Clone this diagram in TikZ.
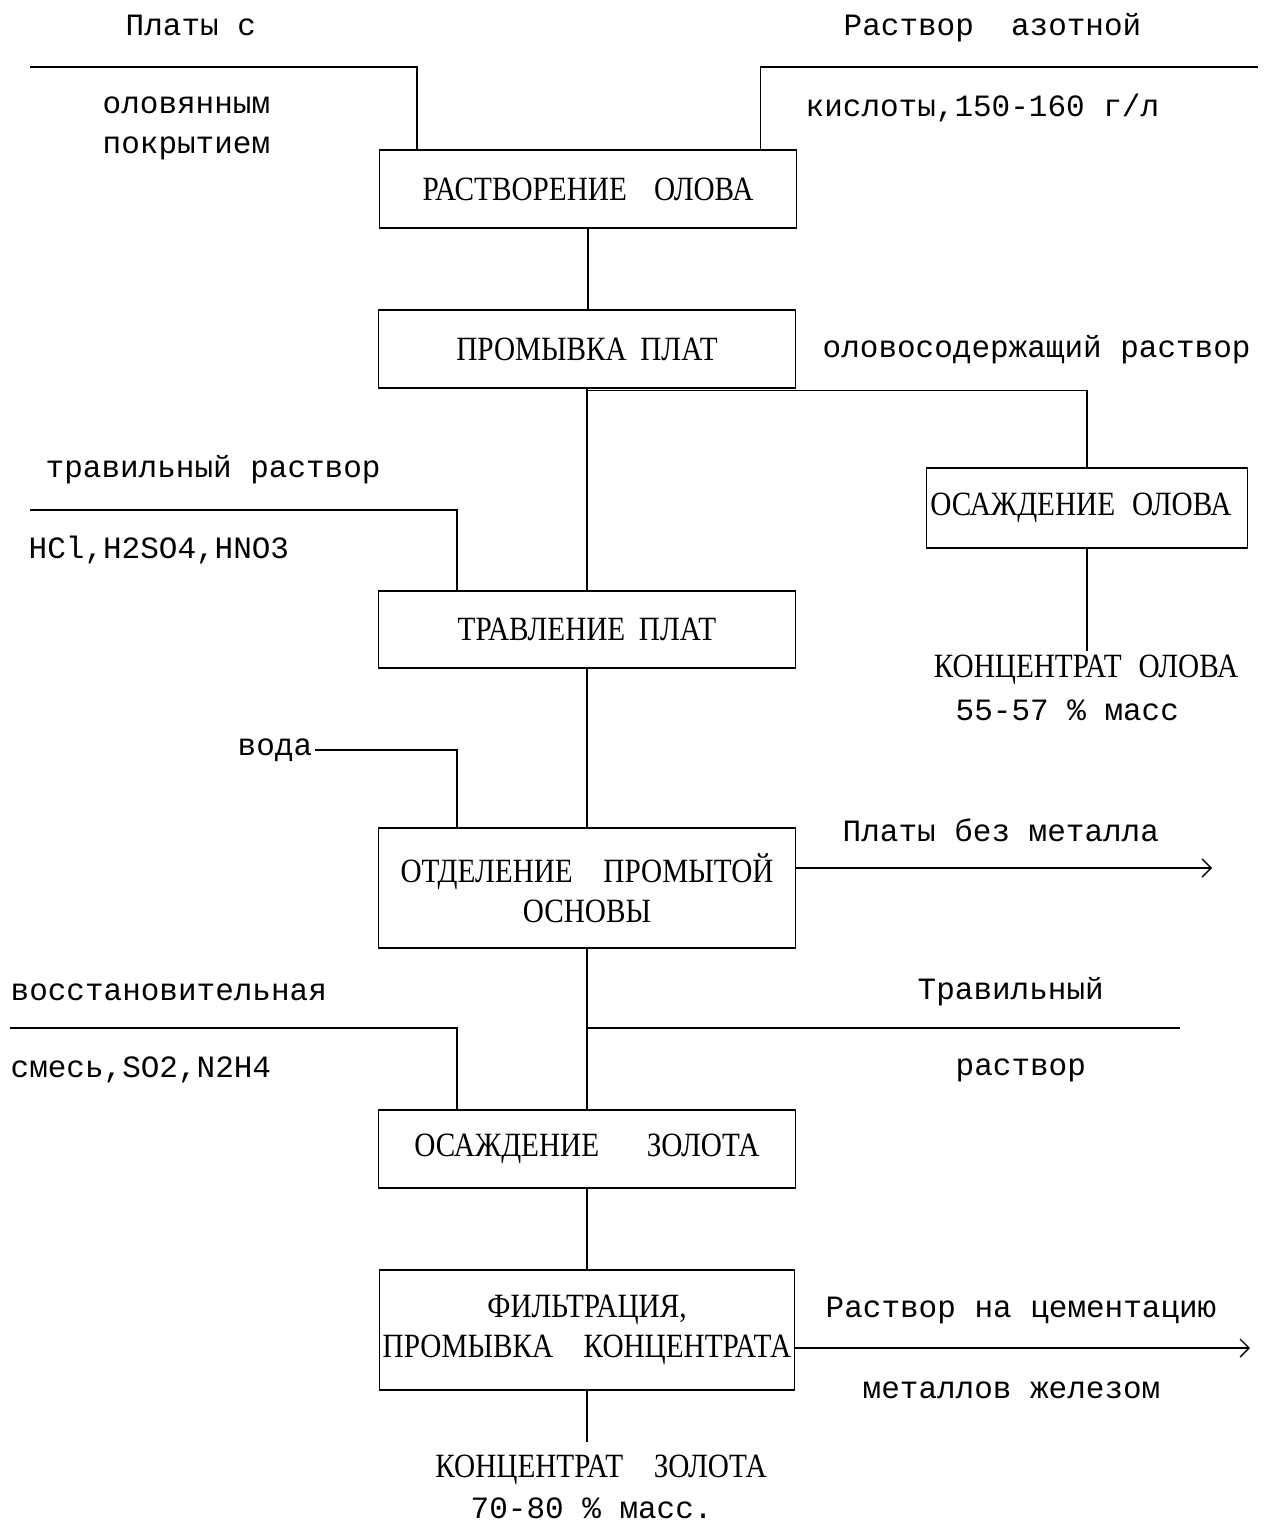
\documentclass[tikz,border=0pt]{standalone}
\usepackage{fontspec}
\setmainfont{Liberation Mono}
\newfontfamily\boxfont{Liberation Serif}[FakeStretch=0.86]
\usetikzlibrary{arrows.meta,calc}
\begin{document}
\begin{tikzpicture}[x=1pt,y=-1pt, line width=1.4pt,
  box/.style={draw, rectangle, inner sep=0pt, font=\boxfont\fontsize{34}{40}\selectfont, align=center},
  lbl/.style={inner sep=0pt, font=\fontsize{31}{40}\selectfont, anchor=west},
  capt/.style={inner xsep=0pt, inner ysep=3pt, font=\boxfont\fontsize{34}{40}\selectfont, align=center},
  arr/.style={-{Straight Barb[length=9pt,width=18pt,line width=1.4pt]}}]
\useasboundingbox (0,0) rectangle (1274,1529);

% boxes
\node[box, minimum width=417pt, minimum height=78pt] (b1) at (588,189) {РАСТВОРЕНИЕ\hspace{0.8em}ОЛОВА};
\node[box, minimum width=417pt, minimum height=78pt] (b2) at (587,349) {ПРОМЫВКА\hspace{0.4em}ПЛАТ};
\node[box, minimum width=321pt, minimum height=80pt] (b3) at (1087,508) {\hspace{-12pt}ОСАЖДЕНИЕ\hspace{0.5em}ОЛОВА};
\node[box, minimum width=417pt, minimum height=77pt] (b4) at (587,629.5) {ТРАВЛЕНИЕ\hspace{0.4em}ПЛАТ};
\node[box, minimum width=417pt, minimum height=120pt] (b5) at (587,888) {ОТДЕЛЕНИЕ\hspace{0.9em}ПРОМЫТОЙ\\ОСНОВЫ};
\node[box, minimum width=417pt, minimum height=78pt] (b6) at (587,1149) {ОСАЖДЕНИЕ\hspace{1.4em}ЗОЛОТА};
\node[box, minimum width=415pt, minimum height=120pt] (b7) at (587,1330) {ФИЛЬТРАЦИЯ,\\ПРОМЫВКА\hspace{0.9em}КОНЦЕНТРАТА};

% labels
\node[lbl] (t1) at (125,25) {Платы с};
\node[lbl] (t2) at (102,105) {оловянным};
\node[lbl] (t3) at (102,148) {покрытием};
\node[lbl] (t4) at (843,28) {Раствор\hspace{1.2em}азотной};
\node[lbl] (t5) at (805,108) {кислоты,150-160 г/л};
\node[lbl] (t6) at (822,350) {оловосодержащий раствор};
\node[lbl] (t7) at (45,470) {травильный раствор};
\node[lbl] (t8) at (28,550) {HCl,H2SO4,HNO3};
\node[capt] (k1) at (1086,670) {КОНЦЕНТРАТ\hspace{0.5em}ОЛОВА};
\node[lbl] (k1b) at (955,710) {55-57 \% масс};
\node[lbl, inner xsep=2pt] (voda) at (235,750) {вода};
\node[lbl] (t9) at (842,830) {Платы без металла};
\node[lbl] (t10) at (10,992) {восстановительная};
\node[lbl] (t11) at (10,1070) {смесь,SO2,N2H4};
\node[lbl] (t12) at (917,992) {Травильный};
\node[lbl] (t13) at (955,1070) {раствор};
\node[lbl] (t14) at (825,1310) {Раствор на цементацию};
\node[lbl] (t15) at (862,1390) {металлов железом};
\node[capt] (k2) at (601,1470) {КОНЦЕНТРАТ\hspace{0.9em}ЗОЛОТА};
\node[lbl] (k2b) at (470,1508) {70-80 \% масс.};

% free ends
\coordinate (in1) at (30,67);
\coordinate (in2) at (1258,67);
\coordinate (in3) at (30,510);
\coordinate (in4) at (10,1028);
\coordinate (in5) at (1180,1028);
\coordinate (out1) at (1212,868);
\coordinate (out2) at (1250,1348);

% connectors
\draw (in1) -| ([xshift=38pt]b1.north west);
\draw (in2) -| ([xshift=-37pt]b1.north east);
\draw (b1.south) -- (b1.south |- b2.north);
\draw (b2.south) -- (b2.south |- b4.north);
\draw ([yshift=-2pt]b2.south) -| (b3.north);
\draw (b3.south) -- (b3.south |- k1.north);
\draw (in3) -| ([xshift=79pt]b4.north west);
\draw (b4.south) -- (b4.south |- b5.north);
\draw (voda.east) -| ([xshift=79pt]b5.north west);
\draw[arr] ([yshift=20pt]b5.east) -- (out1);
\draw (b5.south) -- (b5.south |- b6.north);
\draw (in4) -| ([xshift=79pt]b6.north west);
\draw (in5) -- (in5 -| b6.north);
\draw (b6.south) -- (b6.south |- b7.north);
\draw[arr] ([yshift=-18pt]b7.east) -- (out2);
\draw (b7.south) -- (b7.south |- 0,1442);
\end{tikzpicture}
\end{document}
